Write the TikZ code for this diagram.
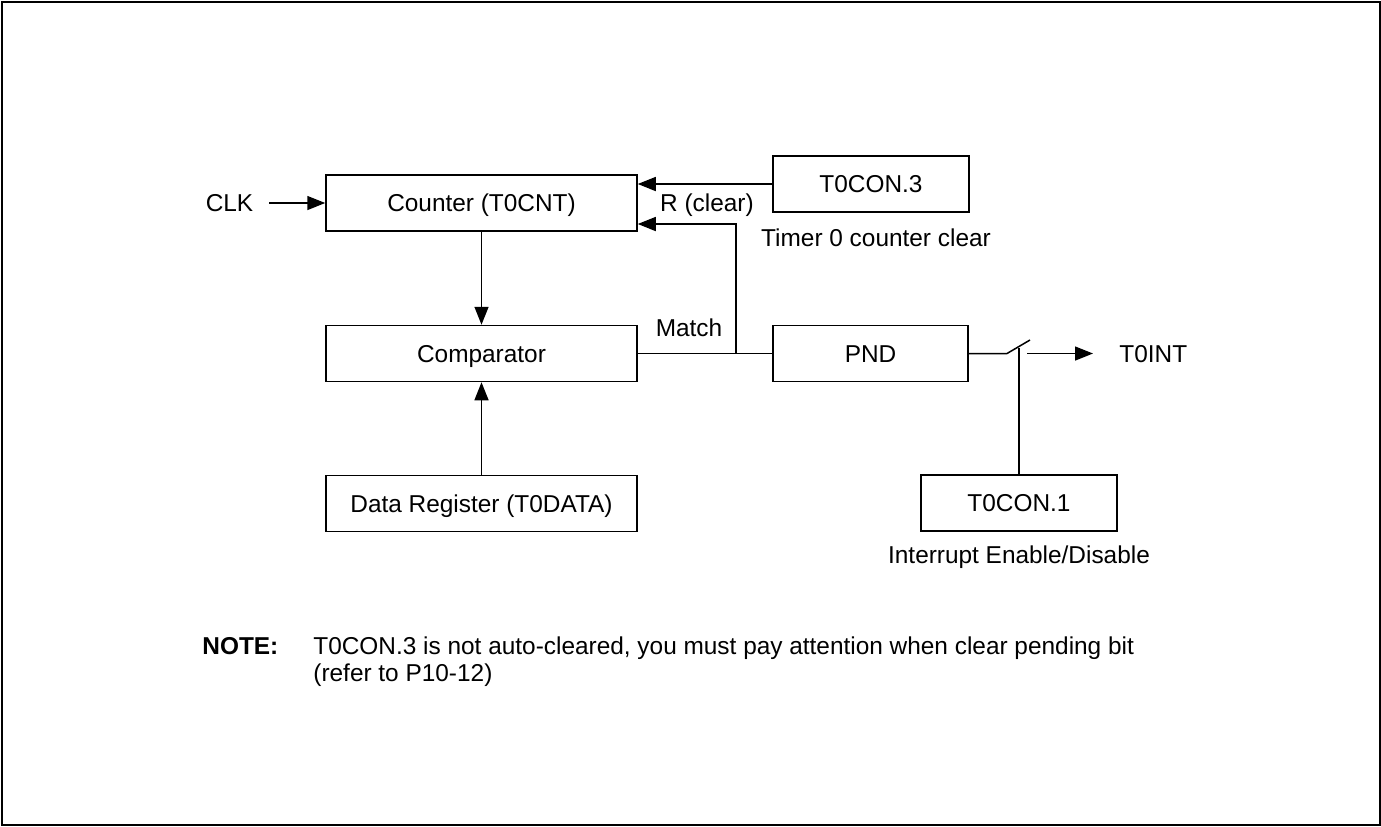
\documentclass[tikz,border=0pt]{standalone}
\usepackage{fontspec}
\setmainfont{Liberation Sans}
\usetikzlibrary{arrows.meta}
\begin{document}
\begin{tikzpicture}[x=0.5pt,y=-0.5pt,
  every node/.style={font=\fontsize{12.2pt}{14pt}\selectfont, text height=8.7pt, text depth=0pt, inner sep=0pt},
  box/.style={draw, line width=0.75pt, minimum height=28pt},
  conn/.style={line width=0.75pt},
  arr/.style={conn, -{Triangle[length=9pt,width=7pt]}}]
\useasboundingbox (0,0) rectangle (1381,826);
\draw[line width=1pt] (2,1.5) rectangle (1379.5,825);
% boxes
\node[box, minimum width=155.5pt] (cnt) at (481.5,203) {Counter (T0CNT)};
\node[box, minimum width=155.5pt] (cmp) at (481.5,353.5) {Comparator};
\node[box, minimum width=155.5pt] (dat) at (481.5,503.5) {Data Register (T0DATA)};
\node[box, minimum width=98pt] (tc3) at (871,184) {T0CON.3};
\node[box, minimum width=97.5pt] (pnd) at (870.5,353.5) {PND};
\node[box, minimum width=98pt] (tc1) at (1019,503) {T0CON.1};
% labels
\node (clk) at (229.5,203) {CLK};
\node (rclr) at (707,203) {R (clear)};
\node (match) at (689,328) {Match};
\node (tclr) at (876,238) {Timer 0 counter clear};
\node (ien) at (1019,555) {Interrupt Enable/Disable};
\node[anchor=west] (tint) at (1119,353.5) {T0INT};
\node[anchor=west, font=\fontsize{12.2pt}{14pt}\selectfont\bfseries] (note) at (202,646) {NOTE:};
\node[anchor=west] (n1) at (313,646) {T0CON.3 is not auto-cleared, you must pay attention when clear pending bit};
\node[anchor=west] (n2) at (313,673) {(refer to P10-12)};
% coordinates
\coordinate (clkA) at (269,203);
\coordinate (rj) at (736,353.5);
\coordinate (rtop) at (736,224);
\coordinate (s1) at (1007,353.5);
\coordinate (s2) at (1030,340);
\coordinate (sv) at (1019,348);
\coordinate (a1) at (1027,353.5);
\coordinate (a2) at (1093,353.5);
% connectors
\draw[arr] (clkA) -- (cnt.west);
\draw[arr] (tc3.west) -- (tc3.west -| cnt.east);
\draw[arr] (rj) -- (rtop) -- (rtop -| cnt.east);
\draw[conn] (cmp.east) -- (pnd.west);
\draw[arr] (cnt.south) -- (cmp.north);
\draw[arr] (dat.north) -- (cmp.south);
\draw[conn] (pnd.east) -- (s1) -- (s2);
\draw[conn] (tc1.north) -- (sv);
\draw[arr] (a1) -- (a2);
\end{tikzpicture}
\end{document}
